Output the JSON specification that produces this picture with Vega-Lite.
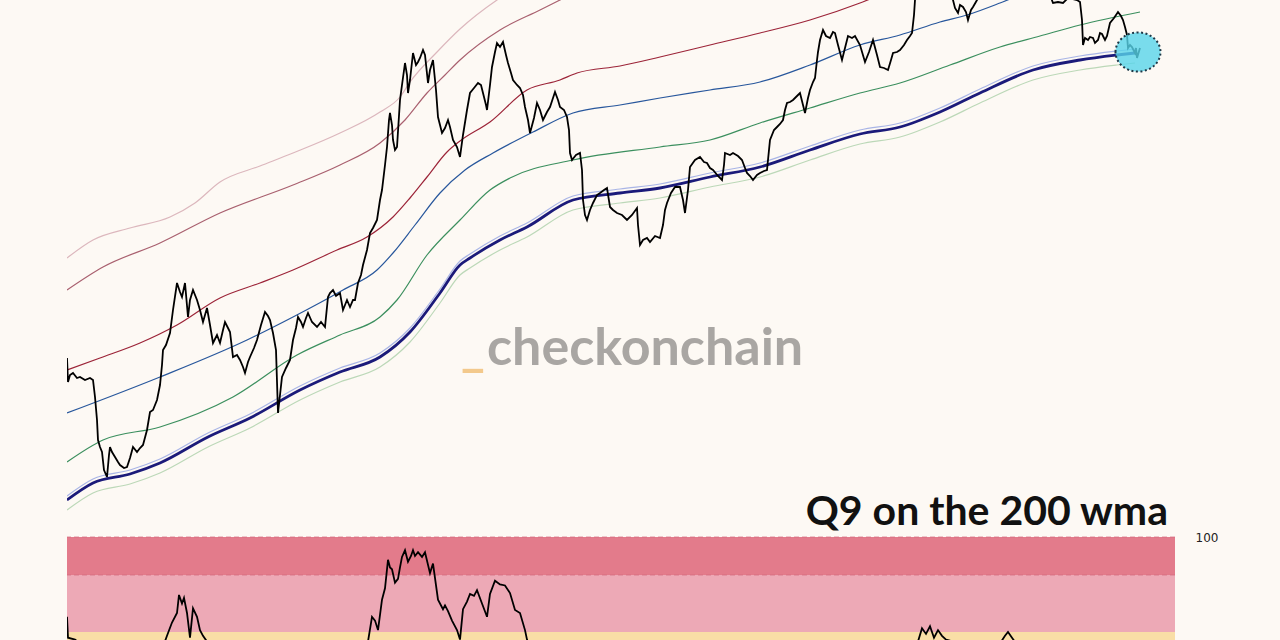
{
"$schema":"https://vega.github.io/schema/vega-lite/v6.json",
"width":1108,"height":640,"autosize":"none",
"padding":{"left":67,"top":0,"right":105,"bottom":0},
"background":"#fdf9f4",
"config":{"view":{"stroke":null}},
"datasets":{
"zones":[{"zone":"hot","lo":80,"hi":100},{"zone":"warm","lo":50,"hi":80},{"zone":"neutral","lo":0,"hi":50}],
"levels":[{"lvl":100},{"lvl":80}],
"osc":[{"t":0,"v":58},{"t":1,"v":47},{"t":8,"v":46},{"t":13,"v":44},{"t":28,"v":40},{"t":33,"v":25},{"t":40,"v":15},{"t":48,"v":20},{"t":63,"v":22},{"t":80,"v":30},{"t":93,"v":38},{"t":100,"v":48},{"t":105,"v":55},{"t":110,"v":60},{"t":112,"v":69.5},{"t":115,"v":65},{"t":117,"v":68},{"t":120,"v":60},{"t":123,"v":47},{"t":126,"v":62.5},{"t":130,"v":58},{"t":133,"v":51},{"t":136,"v":48},{"t":140,"v":45},{"t":146,"v":40},{"t":158,"v":44},{"t":166,"v":36},{"t":178,"v":30},{"t":190,"v":38},{"t":198,"v":45},{"t":203,"v":42},{"t":211,"v":20},{"t":215,"v":32},{"t":226,"v":38},{"t":233,"v":42},{"t":248,"v":40},{"t":261,"v":44},{"t":273,"v":42},{"t":283,"v":40},{"t":291,"v":43},{"t":296,"v":42},{"t":301,"v":45},{"t":305,"v":58},{"t":308,"v":56},{"t":311,"v":51},{"t":315,"v":67},{"t":318,"v":73},{"t":321,"v":88},{"t":323,"v":84},{"t":325,"v":83},{"t":328,"v":76},{"t":331,"v":78},{"t":333,"v":84},{"t":335,"v":89.5},{"t":338,"v":93},{"t":341,"v":87},{"t":344,"v":90},{"t":346,"v":93},{"t":348,"v":90},{"t":351,"v":92},{"t":355,"v":89.5},{"t":358,"v":92},{"t":363,"v":81},{"t":366,"v":86},{"t":371,"v":67},{"t":376,"v":62},{"t":378,"v":64},{"t":381,"v":61},{"t":385,"v":56},{"t":390,"v":51},{"t":393,"v":46},{"t":396,"v":62},{"t":400,"v":66},{"t":403,"v":70},{"t":407,"v":69},{"t":410,"v":72},{"t":415,"v":65},{"t":420,"v":58},{"t":423,"v":70},{"t":428,"v":77},{"t":433,"v":75},{"t":438,"v":74.5},{"t":443,"v":70.5},{"t":448,"v":61.6},{"t":453,"v":60},{"t":458,"v":51},{"t":460,"v":46},{"t":463,"v":42},{"t":478,"v":44},{"t":493,"v":42},{"t":503,"v":35},{"t":516,"v":20},{"t":533,"v":22},{"t":573,"v":10},{"t":593,"v":10},{"t":608,"v":18},{"t":623,"v":24},{"t":653,"v":22},{"t":680,"v":18},{"t":703,"v":26},{"t":723,"v":32},{"t":733,"v":35},{"t":753,"v":42},{"t":773,"v":40},{"t":813,"v":38},{"t":833,"v":40},{"t":845,"v":42},{"t":851,"v":45},{"t":855,"v":52},{"t":859,"v":49},{"t":863,"v":53},{"t":867,"v":47},{"t":871,"v":51},{"t":875,"v":48},{"t":879,"v":46},{"t":893,"v":44},{"t":908,"v":42},{"t":923,"v":40},{"t":933,"v":44},{"t":938,"v":48},{"t":941,"v":50},{"t":945,"v":47},{"t":949,"v":44},{"t":963,"v":40},{"t":993,"v":38},{"t":1011,"v":40},{"t":1016,"v":28},{"t":1033,"v":30},{"t":1051,"v":36},{"t":1063,"v":25},{"t":1073,"v":22}],
"bands":[
{"s":"upper2","t":0,"v":382},{"s":"upper2","t":26,"v":400},{"s":"upper2","t":63,"v":412},{"s":"upper2","t":103,"v":423},{"s":"upper2","t":128,"v":437},{"s":"upper2","t":153,"v":458},{"s":"upper2","t":193,"v":474},{"s":"upper2","t":226,"v":487},{"s":"upper2","t":273,"v":507},{"s":"upper2","t":313,"v":528},{"s":"upper2","t":333,"v":543},{"s":"upper2","t":343,"v":558},{"s":"upper2","t":370,"v":588},{"s":"upper2","t":393,"v":611},{"s":"upper2","t":430,"v":640},{"s":"upper2","t":463,"v":660},{"s":"upper2","t":533,"v":690},
{"s":"upper1","t":0,"v":350},{"s":"upper1","t":36,"v":373},{"s":"upper1","t":93,"v":397},{"s":"upper1","t":153,"v":427},{"s":"upper1","t":226,"v":455},{"s":"upper1","t":273,"v":475},{"s":"upper1","t":313,"v":497},{"s":"upper1","t":338,"v":520},{"s":"upper1","t":360,"v":547},{"s":"upper1","t":378,"v":565},{"s":"upper1","t":393,"v":580},{"s":"upper1","t":433,"v":610},{"s":"upper1","t":473,"v":630},{"s":"upper1","t":493,"v":640},{"s":"upper1","t":533,"v":660},
{"s":"red","t":0,"v":270},{"s":"red","t":33,"v":282},{"s":"red","t":73,"v":297},{"s":"red","t":110,"v":315},{"s":"red","t":153,"v":342},{"s":"red","t":193,"v":357},{"s":"red","t":226,"v":370},{"s":"red","t":270,"v":390},{"s":"red","t":300,"v":403},{"s":"red","t":326,"v":423},{"s":"red","t":343,"v":442},{"s":"red","t":360,"v":463},{"s":"red","t":380,"v":488},{"s":"red","t":393,"v":499},{"s":"red","t":423,"v":518},{"s":"red","t":460,"v":550},{"s":"red","t":493,"v":560},{"s":"red","t":510,"v":567},{"s":"red","t":553,"v":574},{"s":"red","t":593,"v":583},{"s":"red","t":643,"v":595},{"s":"red","t":693,"v":607},{"s":"red","t":743,"v":620},{"s":"red","t":793,"v":637},{"s":"red","t":813,"v":645},{"s":"red","t":883,"v":670},
{"s":"blue","t":0,"v":227},{"s":"blue","t":93,"v":263},{"s":"blue","t":180,"v":300},{"s":"blue","t":226,"v":323},{"s":"blue","t":276,"v":350},{"s":"blue","t":310,"v":370},{"s":"blue","t":326,"v":387},{"s":"blue","t":348,"v":415},{"s":"blue","t":373,"v":447},{"s":"blue","t":398,"v":470},{"s":"blue","t":426,"v":487},{"s":"blue","t":466,"v":508},{"s":"blue","t":506,"v":527},{"s":"blue","t":553,"v":535},{"s":"blue","t":593,"v":542},{"s":"blue","t":643,"v":550},{"s":"blue","t":693,"v":558},{"s":"blue","t":743,"v":575},{"s":"blue","t":793,"v":595},{"s":"blue","t":833,"v":605},{"s":"blue","t":873,"v":618},{"s":"blue","t":900,"v":625},{"s":"blue","t":933,"v":637},{"s":"blue","t":953,"v":645},{"s":"blue","t":1033,"v":670},
{"s":"green","t":0,"v":178},{"s":"green","t":36,"v":200},{"s":"green","t":93,"v":213},{"s":"green","t":166,"v":243},{"s":"green","t":230,"v":285},{"s":"green","t":273,"v":305},{"s":"green","t":313,"v":323},{"s":"green","t":330,"v":340},{"s":"green","t":360,"v":385},{"s":"green","t":393,"v":420},{"s":"green","t":423,"v":450},{"s":"green","t":443,"v":462},{"s":"green","t":506,"v":480},{"s":"green","t":593,"v":493},{"s":"green","t":643,"v":500},{"s":"green","t":693,"v":517},{"s":"green","t":743,"v":532},{"s":"green","t":793,"v":547},{"s":"green","t":833,"v":557},{"s":"green","t":883,"v":575},{"s":"green","t":933,"v":593},{"s":"green","t":973,"v":604},{"s":"green","t":1013,"v":615},{"s":"green","t":1073,"v":628},
{"s":"halo","t":0,"v":144},{"s":"halo","t":26,"v":161},{"s":"halo","t":63,"v":170},{"s":"halo","t":93,"v":181},{"s":"halo","t":141,"v":207},{"s":"halo","t":183,"v":226},{"s":"halo","t":233,"v":254},{"s":"halo","t":273,"v":272},{"s":"halo","t":313,"v":287},{"s":"halo","t":343,"v":312},{"s":"halo","t":373,"v":351},{"s":"halo","t":393,"v":379},{"s":"halo","t":403,"v":386},{"s":"halo","t":433,"v":404},{"s":"halo","t":460,"v":417},{"s":"halo","t":506,"v":444},{"s":"halo","t":553,"v":451},{"s":"halo","t":593,"v":456},{"s":"halo","t":643,"v":467},{"s":"halo","t":693,"v":477},{"s":"halo","t":743,"v":494},{"s":"halo","t":793,"v":510},{"s":"halo","t":833,"v":517},{"s":"halo","t":873,"v":532},{"s":"halo","t":913,"v":551},{"s":"halo","t":966,"v":574},{"s":"halo","t":1013,"v":584},{"s":"halo","t":1050,"v":589},{"s":"halo","t":1068,"v":591},
{"s":"floor","t":0,"v":130},{"s":"floor","t":26,"v":147},{"s":"floor","t":63,"v":156},{"s":"floor","t":93,"v":167},{"s":"floor","t":141,"v":193},{"s":"floor","t":183,"v":212},{"s":"floor","t":233,"v":240},{"s":"floor","t":273,"v":258},{"s":"floor","t":313,"v":273},{"s":"floor","t":343,"v":298},{"s":"floor","t":373,"v":337},{"s":"floor","t":393,"v":365},{"s":"floor","t":403,"v":372},{"s":"floor","t":433,"v":390},{"s":"floor","t":460,"v":403},{"s":"floor","t":506,"v":430},{"s":"floor","t":553,"v":437},{"s":"floor","t":593,"v":442},{"s":"floor","t":643,"v":453},{"s":"floor","t":693,"v":463},{"s":"floor","t":743,"v":480},{"s":"floor","t":793,"v":496},{"s":"floor","t":833,"v":503},{"s":"floor","t":873,"v":518},{"s":"floor","t":913,"v":537},{"s":"floor","t":966,"v":560},{"s":"floor","t":1013,"v":570},{"s":"floor","t":1050,"v":575},{"s":"floor","t":1068,"v":577}
],
"wma":[{"t":0,"v":140},{"t":26,"v":157},{"t":63,"v":166},{"t":93,"v":177},{"t":141,"v":203},{"t":183,"v":222},{"t":233,"v":250},{"t":273,"v":268},{"t":313,"v":283},{"t":343,"v":308},{"t":373,"v":347},{"t":393,"v":375},{"t":403,"v":382},{"t":433,"v":400},{"t":460,"v":413},{"t":506,"v":440},{"t":553,"v":447},{"t":593,"v":452},{"t":643,"v":463},{"t":693,"v":473},{"t":743,"v":490},{"t":793,"v":506},{"t":833,"v":513},{"t":873,"v":528},{"t":913,"v":547},{"t":966,"v":570},{"t":1013,"v":580},{"t":1050,"v":585},{"t":1068,"v":587}],
"price":[{"t":0,"v":282},{"t":1,"v":258},{"t":3,"v":265},{"t":6,"v":267},{"t":10,"v":262},{"t":13,"v":263},{"t":18,"v":260},{"t":23,"v":262},{"t":26,"v":260},{"t":28,"v":243},{"t":30,"v":220},{"t":31,"v":200},{"t":33,"v":193},{"t":35,"v":188},{"t":37,"v":170},{"t":40,"v":163},{"t":42,"v":185},{"t":43,"v":193},{"t":45,"v":188},{"t":48,"v":183},{"t":51,"v":178},{"t":53,"v":175},{"t":57,"v":172},{"t":60,"v":173},{"t":63,"v":182},{"t":66,"v":193},{"t":70,"v":188},{"t":73,"v":192},{"t":76,"v":195},{"t":80,"v":210},{"t":83,"v":228},{"t":86,"v":230},{"t":90,"v":240},{"t":93,"v":255},{"t":95,"v":275},{"t":96,"v":290},{"t":99,"v":295},{"t":103,"v":307},{"t":106,"v":330},{"t":110,"v":357},{"t":113,"v":348},{"t":115,"v":343},{"t":118,"v":357},{"t":121,"v":323},{"t":123,"v":340},{"t":126,"v":350},{"t":130,"v":340},{"t":133,"v":330},{"t":136,"v":318},{"t":140,"v":332},{"t":143,"v":315},{"t":146,"v":297},{"t":150,"v":305},{"t":153,"v":297},{"t":156,"v":310},{"t":158,"v":318},{"t":161,"v":312},{"t":163,"v":308},{"t":166,"v":283},{"t":170,"v":285},{"t":173,"v":280},{"t":176,"v":273},{"t":178,"v":267},{"t":181,"v":278},{"t":183,"v":283},{"t":187,"v":292},{"t":190,"v":300},{"t":194,"v":315},{"t":198,"v":328},{"t":201,"v":324},{"t":203,"v":320},{"t":206,"v":307},{"t":209,"v":290},{"t":211,"v":227},{"t":213,"v":245},{"t":215,"v":263},{"t":219,"v":272},{"t":223,"v":280},{"t":226,"v":300},{"t":229,"v":312},{"t":231,"v":323},{"t":234,"v":318},{"t":236,"v":313},{"t":239,"v":322},{"t":241,"v":327},{"t":245,"v":318},{"t":250,"v":313},{"t":254,"v":318},{"t":258,"v":313},{"t":261,"v":343},{"t":263,"v":347},{"t":266,"v":350},{"t":269,"v":344},{"t":273,"v":347},{"t":276,"v":330},{"t":278,"v":335},{"t":280,"v":340},{"t":283,"v":333},{"t":286,"v":340},{"t":288,"v":340},{"t":291,"v":357},{"t":294,"v":365},{"t":296,"v":375},{"t":300,"v":390},{"t":303,"v":407},{"t":306,"v":412},{"t":310,"v":420},{"t":313,"v":440},{"t":315,"v":450},{"t":318,"v":475},{"t":320,"v":493},{"t":322,"v":520},{"t":323,"v":527},{"t":325,"v":515},{"t":326,"v":500},{"t":328,"v":490},{"t":330,"v":493},{"t":333,"v":540},{"t":335,"v":555},{"t":338,"v":577},{"t":340,"v":565},{"t":341,"v":547},{"t":343,"v":560},{"t":346,"v":587},{"t":349,"v":575},{"t":351,"v":578},{"t":353,"v":582},{"t":356,"v":590},{"t":358,"v":585},{"t":361,"v":557},{"t":363,"v":570},{"t":366,"v":580},{"t":369,"v":550},{"t":371,"v":523},{"t":375,"v":507},{"t":378,"v":512},{"t":381,"v":520},{"t":383,"v":513},{"t":386,"v":500},{"t":390,"v":493},{"t":393,"v":483},{"t":396,"v":505},{"t":400,"v":530},{"t":403,"v":547},{"t":407,"v":552},{"t":411,"v":557},{"t":414,"v":555},{"t":416,"v":547},{"t":419,"v":535},{"t":420,"v":530},{"t":423,"v":555},{"t":425,"v":573},{"t":428,"v":588},{"t":430,"v":597},{"t":433,"v":593},{"t":436,"v":598},{"t":439,"v":585},{"t":441,"v":577},{"t":444,"v":567},{"t":446,"v":560},{"t":450,"v":555},{"t":453,"v":552},{"t":456,"v":545},{"t":458,"v":533},{"t":461,"v":520},{"t":463,"v":507},{"t":467,"v":522},{"t":470,"v":537},{"t":473,"v":530},{"t":476,"v":520},{"t":480,"v":528},{"t":483,"v":533},{"t":486,"v":542},{"t":488,"v":548},{"t":491,"v":540},{"t":493,"v":533},{"t":497,"v":530},{"t":500,"v":523},{"t":502,"v":510},{"t":503,"v":487},{"t":505,"v":480},{"t":509,"v":485},{"t":513,"v":487},{"t":515,"v":470},{"t":516,"v":440},{"t":518,"v":425},{"t":520,"v":420},{"t":523,"v":430},{"t":526,"v":437},{"t":530,"v":445},{"t":533,"v":447},{"t":537,"v":450},{"t":540,"v":452},{"t":543,"v":433},{"t":546,"v":430},{"t":550,"v":427},{"t":555,"v":425},{"t":560,"v":420},{"t":565,"v":425},{"t":570,"v":432},{"t":571,"v":415},{"t":573,"v":395},{"t":576,"v":400},{"t":580,"v":402},{"t":583,"v":398},{"t":588,"v":404},{"t":593,"v":402},{"t":596,"v":415},{"t":598,"v":430},{"t":600,"v":437},{"t":604,"v":447},{"t":608,"v":453},{"t":613,"v":453},{"t":616,"v":440},{"t":618,"v":427},{"t":621,"v":450},{"t":623,"v":473},{"t":628,"v":480},{"t":633,"v":483},{"t":637,"v":478},{"t":640,"v":477},{"t":643,"v":472},{"t":646,"v":470},{"t":651,"v":464},{"t":655,"v":460},{"t":657,"v":475},{"t":658,"v":487},{"t":663,"v":485},{"t":666,"v":487},{"t":671,"v":484},{"t":675,"v":480},{"t":678,"v":472},{"t":680,"v":467},{"t":683,"v":464},{"t":686,"v":460},{"t":690,"v":465},{"t":693,"v":467},{"t":697,"v":469},{"t":700,"v":470},{"t":703,"v":500},{"t":707,"v":510},{"t":710,"v":513},{"t":713,"v":516},{"t":716,"v":520},{"t":718,"v":530},{"t":720,"v":537},{"t":723,"v":538},{"t":726,"v":540},{"t":730,"v":544},{"t":733,"v":547},{"t":736,"v":535},{"t":738,"v":527},{"t":741,"v":542},{"t":743,"v":550},{"t":746,"v":558},{"t":748,"v":562},{"t":750,"v":580},{"t":751,"v":588},{"t":753,"v":600},{"t":756,"v":610},{"t":759,"v":604},{"t":763,"v":602},{"t":766,"v":608},{"t":768,"v":607},{"t":771,"v":595},{"t":775,"v":580},{"t":778,"v":592},{"t":781,"v":604},{"t":785,"v":602},{"t":788,"v":604},{"t":793,"v":595},{"t":798,"v":578},{"t":802,"v":588},{"t":806,"v":600},{"t":810,"v":585},{"t":813,"v":573},{"t":817,"v":572},{"t":821,"v":570},{"t":824,"v":580},{"t":826,"v":587},{"t":830,"v":588},{"t":833,"v":590},{"t":837,"v":595},{"t":840,"v":600},{"t":843,"v":604},{"t":845,"v":607},{"t":847,"v":625},{"t":848,"v":640},{"t":853,"v":660},{"t":863,"v":655},{"t":873,"v":665},{"t":883,"v":650},{"t":886,"v":640},{"t":888,"v":632},{"t":891,"v":627},{"t":893,"v":635},{"t":896,"v":633},{"t":899,"v":628},{"t":901,"v":620},{"t":904,"v":630},{"t":906,"v":633},{"t":910,"v":640},{"t":918,"v":660},{"t":933,"v":675},{"t":953,"v":665},{"t":968,"v":655},{"t":983,"v":645},{"t":986,"v":637},{"t":991,"v":638},{"t":996,"v":637},{"t":1001,"v":642},{"t":1010,"v":640},{"t":1013,"v":638},{"t":1015,"v":620},{"t":1016,"v":595},{"t":1018,"v":602},{"t":1021,"v":600},{"t":1023,"v":603},{"t":1026,"v":602},{"t":1028,"v":597},{"t":1031,"v":600},{"t":1033,"v":607},{"t":1035,"v":606},{"t":1038,"v":600},{"t":1040,"v":604},{"t":1043,"v":617},{"t":1047,"v":622},{"t":1051,"v":628},{"t":1054,"v":624},{"t":1056,"v":620},{"t":1058,"v":613},{"t":1060,"v":605},{"t":1061,"v":592},{"t":1063,"v":595},{"t":1065,"v":593},{"t":1068,"v":587},{"t":1069,"v":592},{"t":1070,"v":582},{"t":1073,"v":592}],
"mark":[{"t":1071,"v":588}]
},
"layer":[
{"layer":[
 {"data":{"name":"zones"},"mark":{"type":"rect","clip":true},
  "encoding":{"x":{"datum":0,"type":"quantitative","scale":{"domain":[0,1108],"nice":false,"zero":false},"axis":null},
   "x2":{"datum":1108},
   "y":{"field":"lo","type":"quantitative","scale":{"domain":[45.79,382.63],"nice":false,"zero":false},
        "axis":{"orient":"right","values":[100],"domain":false,"ticks":false,"grid":false,"title":null,"labelPadding":20,"labelFont":"DejaVu Sans","labelFontSize":12,"labelColor":"#222"}},
   "y2":{"field":"hi"},
   "color":{"field":"zone","type":"nominal","scale":{"domain":["hot","warm","neutral"],"range":["#e37b8b","#eda9b6","#f9dea6"]},"legend":null}}},
 {"data":{"name":"levels"},"mark":{"type":"rule","color":"#d2677a","strokeWidth":1,"strokeDash":[5,3],"opacity":0.7},
  "encoding":{"y":{"field":"lvl","type":"quantitative"}}},
 {"data":{"name":"osc"},"mark":{"type":"line","clip":true,"color":"#000","strokeWidth":1.8},
  "encoding":{"x":{"field":"t","type":"quantitative"},"y":{"field":"v","type":"quantitative"}}}
]},
{"layer":[
 {"data":{"name":"bands"},"mark":{"type":"line","clip":true,"strokeWidth":1.2,"interpolate":"monotone"},
  "encoding":{"x":{"field":"t","type":"quantitative","scale":{"domain":[0,1108],"nice":false,"zero":false},"axis":null},
   "y":{"field":"v","type":"quantitative","scale":{"domain":[0,640],"nice":false,"zero":false},"axis":null},
   "color":{"field":"s","type":"nominal","scale":{"domain":["upper2","upper1","red","blue","green","halo","floor"],"range":["#dcb7bd","#a9606f","#9c2438","#28579c","#3b8f5e","#a9b5e6","#bcd8b8"]},"legend":null}}},
 {"data":{"name":"wma"},"mark":{"type":"line","clip":true,"strokeWidth":2.8,"color":"#1b1a7a","interpolate":"monotone"},
  "encoding":{"x":{"field":"t","type":"quantitative"},"y":{"field":"v","type":"quantitative"}}},
 {"data":{"name":"price"},"mark":{"type":"line","clip":true,"strokeWidth":1.8,"color":"#000"},
  "encoding":{"x":{"field":"t","type":"quantitative"},"y":{"field":"v","type":"quantitative"}}},
 {"data":{"name":"mark"},"mark":{"type":"point","filled":true,"shape":"M -1 0 A 1 0.87 0 1 1 1 0 A 1 0.87 0 1 1 -1 0 Z","size":2025,"fill":"#58d4ea","fillOpacity":0.8,"stroke":"#1e3847","strokeWidth":2,"strokeDash":[2,2.5],"strokeOpacity":1},
  "encoding":{"x":{"field":"t","type":"quantitative"},"y":{"field":"v","type":"quantitative"}}},
 {"data":{"values":[{"label":"_"}]},"mark":{"type":"text","align":"right","baseline":"alphabetic","font":"Lato","fontWeight":"bold","fontSize":52,"color":"#f3c98c"},
  "encoding":{"x":{"datum":418,"type":"quantitative"},"y":{"datum":275,"type":"quantitative"},"text":{"field":"label"}}},
 {"data":{"values":[{"label":"checkonchain"}]},"mark":{"type":"text","align":"left","baseline":"alphabetic","font":"Lato","fontWeight":"bold","fontSize":52,"color":"#a9a6a3"},
  "encoding":{"x":{"datum":420,"type":"quantitative"},"y":{"datum":275,"type":"quantitative"},"text":{"field":"label"}}},
 {"data":{"values":[{"label":"Q9 on the 200 wma"}]},"mark":{"type":"text","align":"right","baseline":"alphabetic","font":"Lato","fontWeight":"bold","fontSize":41,"color":"#111"},
  "encoding":{"x":{"datum":1101,"type":"quantitative"},"y":{"datum":115,"type":"quantitative"},"text":{"field":"label"}}}
]}
],
"resolve":{"scale":{"y":"independent","color":"independent"}}
}
